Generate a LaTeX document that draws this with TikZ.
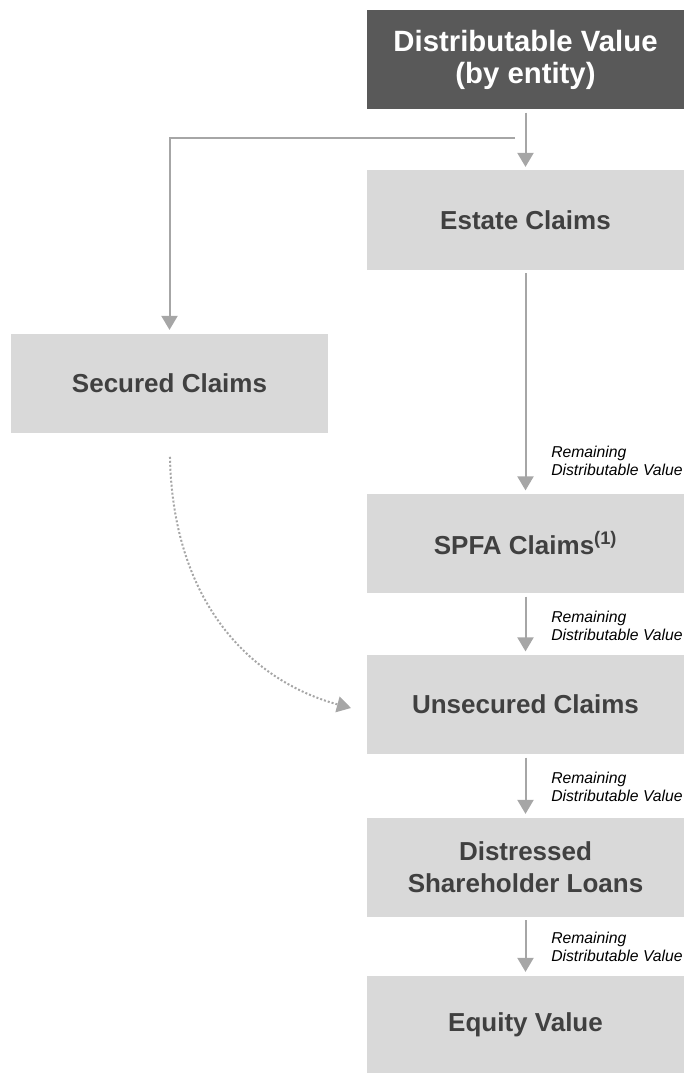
\documentclass[tikz,border=0pt]{standalone}
\usepackage{fontspec}
\setmainfont{Liberation Sans}
\usetikzlibrary{arrows.meta}
\definecolor{darkbox}{HTML}{595959}
\definecolor{lightbox}{HTML}{D9D9D9}
\definecolor{boxtext}{HTML}{404040}
\definecolor{flowgrey}{HTML}{A6A6A6}
\tikzset{
  claim/.style={fill=lightbox, text=boxtext, font=\bfseries\fontsize{19.5}{23.8}\selectfont,
    minimum width=237.75pt, minimum height=74.25pt, align=center, inner sep=0pt},
  topbox/.style={claim, fill=darkbox, text=white, font=\bfseries\fontsize{22}{24}\selectfont},
  flow/.style={draw=flowgrey, line width=1.5pt, -{Triangle[width=12pt,length=10.5pt]},
    shorten <=2.5pt, shorten >=2.5pt},
  remain/.style={anchor=north west, inner sep=0pt, align=left,
    font=\itshape\fontsize{11.8}{13.7}\selectfont}
}
\begin{document}
\begin{tikzpicture}[x=0.75pt, y=-0.75pt]
  \useasboundingbox (0,0) rectangle (687,1073); % page size

  % Boxes
  \node[topbox] (dv) at (525.5,59.5) {Distributable Value\\(by entity)};
  \node[claim] (estate) at (525.5,220) {Estate Claims};
  \node[claim] (secured) at (169.5,383) {Secured Claims};
  \node[claim] (spfa) at (525.5,543.5) {SPFA Claims\textsuperscript{(1)}};
  \node[claim] (unsec) at (525.5,704.5) {Unsecured Claims};
  \node[claim] (distr) at (525.5,867) {Distressed\\Shareholder Loans};
  \node[claim] (equity) at (525.5,1025) {Equity Value};

  % Value goes to estate and secured claims
  \draw[flow] (dv) -- (estate);
  \coordinate (split) at (515,138); % free end of the branch
  \draw[flow, shorten <=0pt] (split) -| (secured.north);

  % Waterfall down the right column
  \foreach \a/\b/\y in {estate/spfa/446, spfa/unsec/611, unsec/distr/772, distr/equity/932} {
    \draw[flow] (\a) -- (\b);
    \node[remain] (rem-\b) at (551,\y) {Remaining\\Distributable Value};
  }

  % Deficiency of secured claims into unsecured
  \coordinate (dotend) at (351,708);
  \draw[flow, line width=1.5pt, dash pattern=on 1.5pt off 1.5pt, shorten <=18pt, shorten >=0pt]
    (secured.south) .. controls (173,610) and (258,683) .. (dotend);
\end{tikzpicture}
\end{document}
